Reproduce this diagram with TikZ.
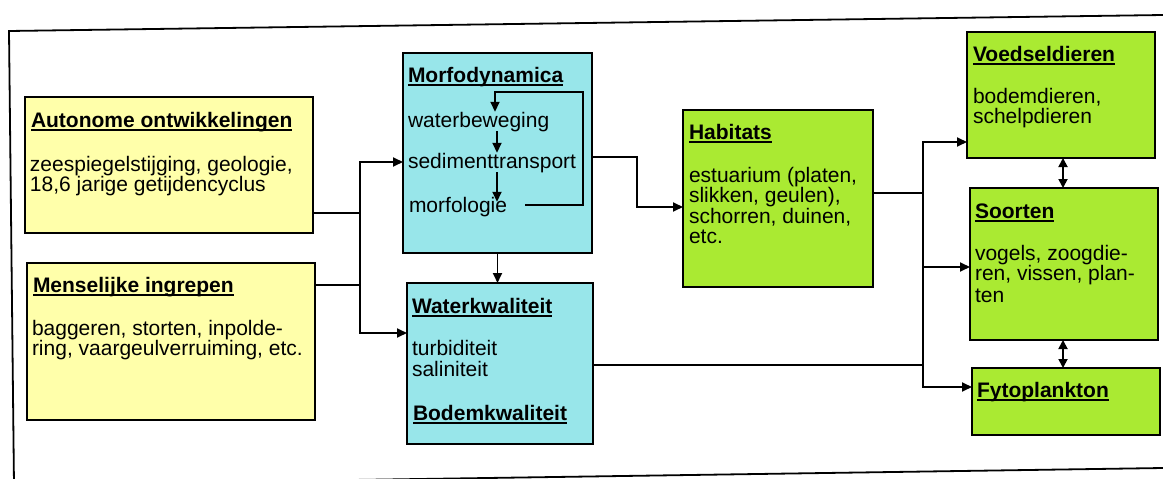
\documentclass[tikz,border=0pt]{standalone}
\usepackage{fontspec}
\setmainfont{Liberation Sans}
\usetikzlibrary{arrows.meta}
\definecolor{yel}{RGB}{255,255,170}
\definecolor{cya}{RGB}{152,230,234}
\definecolor{grn}{RGB}{170,234,50}
\newcommand\ttl[1]{\setbox0\hbox{\bfseries #1}\rlap{\rule[-4.3pt]{\wd0}{2pt}}\box0}
\begin{document}
\begin{tikzpicture}[x=1pt,y=-1pt,
  box/.style={draw=black, line width=2pt, anchor=north west, inner sep=0pt, outer sep=0pt},
  txt/.style={anchor=base west, inner sep=0pt, outer sep=0pt, font=\fontsize{21}{21}\selectfont},
  conn/.style={line width=1.8pt, -{Triangle[length=10pt,width=9pt]}},
  dbl/.style={line width=1.8pt, {Triangle[length=9pt,width=9pt]}-{Triangle[length=9pt,width=9pt]}},
  plain/.style={line width=1.8pt}]
\useasboundingbox (0,0) rectangle (1163,479);
\fill[white] (0,0) rectangle (1163,479);
% frame
\draw[line width=1.8pt] (1163,15) -- (9,31) -- (14,485);
\draw[line width=1.8pt] (14,485) -- (1163,468);
% boxes
\node[box, fill=yel, minimum width=288pt, minimum height=136pt] (auto) at (25,97) {};
\node[box, fill=yel, minimum width=288pt, minimum height=157pt] (mens) at (27,263) {};
\node[box, fill=cya, minimum width=189pt, minimum height=200pt] (morfo) at (403,53) {};
\node[box, fill=cya, minimum width=186pt, minimum height=161pt] (water) at (407,283) {};
\node[box, fill=grn, minimum width=190pt, minimum height=177pt] (hab) at (683,110) {};
\node[box, fill=grn, minimum width=188pt, minimum height=126pt] (voed) at (967,32) {};
\node[box, fill=grn, minimum width=188pt, minimum height=152pt] (soort) at (970,188) {};
\node[box, fill=grn, minimum width=188pt, minimum height=67pt] (fyto) at (972,368) {};
% texts
\node[txt] (autot) at (31,127) {\ttl{Autonome ontwikkelingen}};
\node[txt] (auto1) at (30,171) {zeespiegelstijging, geologie,};
\node[txt] (auto2) at (30,191) {18,6 jarige getijdencyclus};
\node[txt] (menst) at (33,292) {\ttl{Menselijke ingrepen}};
\node[txt] (mens1) at (32,335) {baggeren, storten, inpolde-};
\node[txt] (mens2) at (32,355) {ring, vaargeulverruiming, etc.};
\node[txt] (morfot) at (408,82) {\ttl{Morfodynamica}};
\node[txt] (wb) at (408,127) {waterbeweging};
\node[txt] (st) at (408,168) {sedimenttransport};
\node[txt] (mf) at (409,212) {morfologie};
\node[txt] (watert) at (412,313) {\ttl{Waterkwaliteit}};
\node[txt] (water1) at (412,355) {turbiditeit};
\node[txt] (water2) at (412,376) {saliniteit};
\node[txt] (bodemt) at (413,420) {\ttl{Bodemkwaliteit}};
\node[txt] (habt) at (689,139) {\ttl{Habitats}};
\node[txt] (hab1) at (689,182) {estuarium (platen,};
\node[txt] (hab2) at (689,202) {slikken, geulen),};
\node[txt] (hab3) at (689,223) {schorren, duinen,};
\node[txt] (hab4) at (689,243) {etc.};
\node[txt] (voedt) at (973,61) {\ttl{Voedseldieren}};
\node[txt] (voed1) at (973,103) {bodemdieren,};
\node[txt] (voed2) at (973,123) {schelpdieren};
\node[txt] (soortt) at (975,218) {\ttl{Soorten}};
\node[txt] (soort1) at (975,260) {vogels, zoogdie-};
\node[txt] (soort2) at (975,280) {ren, vissen, plan-};
\node[txt] (soort3) at (975,302) {ten};
\node[txt] (fytot) at (977,397) {\ttl{Fytoplankton}};
% left junction
\coordinate (j1) at (360,213);
\coordinate (j2) at (360,285);
\coordinate (jt) at (360,162);
\coordinate (jb) at (360,333);
\draw[plain] (auto.east |- j1) -- (j1);
\draw[plain] (mens.east |- j2) -- (j2);
\draw[conn] (jb) -- (jt) -- (morfo.west |- jt);
\draw[conn] (jt) -- (jb) -- (water.west |- jb);
% morfo -> water
\draw[conn] (morfo.south) -- (water.north -| morfo.south);
% morfo -> habitats
\coordinate (m1) at (637,157);
\coordinate (m2) at (637,207);
\draw[conn] (morfo.east |- m1) -- (m1) -- (m2) -- (hab.west |- m2);
% inner loop
\coordinate (l0) at (525,205);
\coordinate (l1) at (583,205);
\coordinate (l2) at (583,92);
\coordinate (l3) at (495,92);
\coordinate (a2) at (497,0);
\draw[conn] (l0) -- (l1) -- (l2) -- (l3) -- (wb.north -| l3);
\draw[conn] (wb.south -| a2) -- (st.north -| a2);
\draw[conn, shorten >=-5pt] (st.south -| a2) -- (mf.north -| a2);
% right junction
\coordinate (r1) at (923,193);
\coordinate (w1) at (923,365);
\coordinate (rt) at (923,142);
\coordinate (rs) at (923,267);
\coordinate (rb) at (923,387);
\draw[plain] (hab.east |- r1) -- (r1);
\draw[plain] (water.east |- w1) -- (w1);
\draw[conn] (rb) -- (rt) -- (voed.west |- rt);
\draw[conn] (rs) -- (soort.west |- rs);
\draw[conn] (rt) -- (rb) -- (fyto.west |- rb);
% double arrows
\coordinate (dx) at (1063,0);
\draw[dbl] (voed.south -| dx) -- (soort.north -| dx);
\draw[dbl] (soort.south -| dx) -- (fyto.north -| dx);
\end{tikzpicture}
\end{document}
